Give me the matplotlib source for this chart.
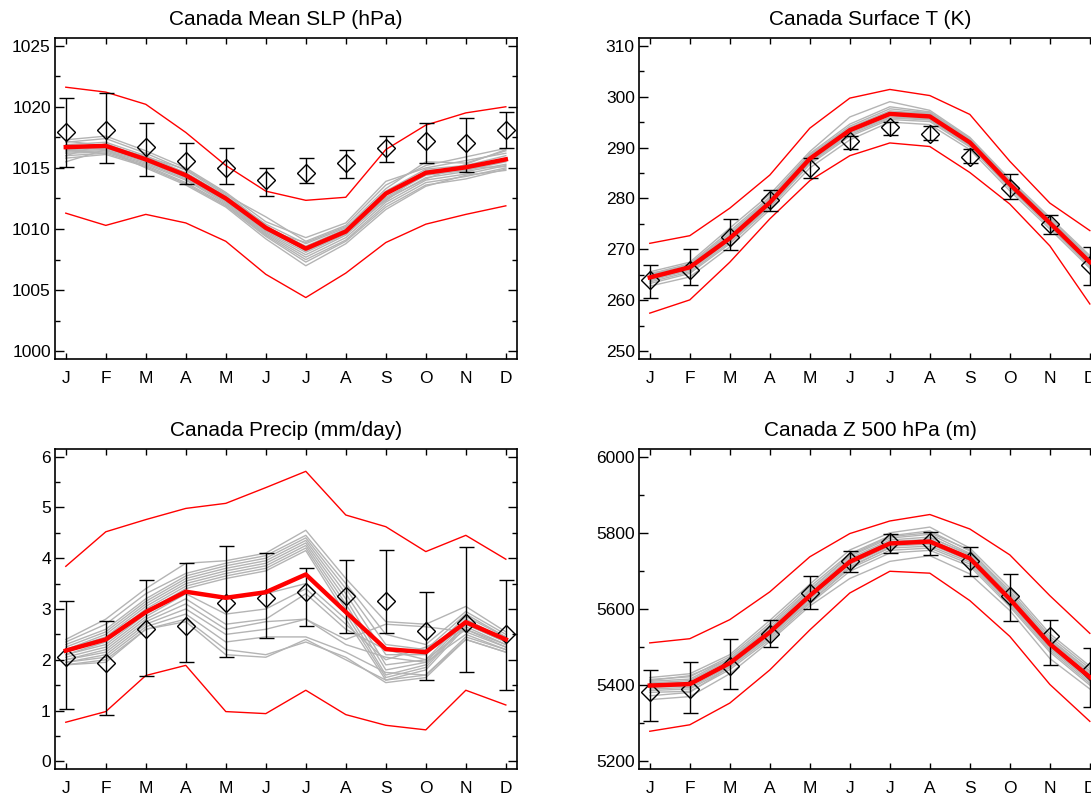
import matplotlib
matplotlib.use("Agg")
from matplotlib import pyplot as plt
from matplotlib.ticker import MultipleLocator

plt.rcParams['font.family'] = ['Liberation Sans', 'DejaVu Sans']

months = ["J", "F", "M", "A", "M", "J", "J", "A", "S", "O", "N", "D"]

# ---- Mean SLP (hPa)
slp_mean = [1016.7, 1016.8, 1015.7, 1014.4, 1012.5, 1010.1, 1008.4, 1009.8, 1012.9, 1014.6, 1015.05, 1015.7]
slp_hi = [1021.6, 1021.2, 1020.2, 1017.9, 1015.2, 1013.1, 1012.35, 1012.6, 1016.5, 1018.5, 1019.5, 1020.0]
slp_lo = [1011.3, 1010.3, 1011.2, 1010.5, 1009.0, 1006.3, 1004.4, 1006.4, 1008.9, 1010.4, 1011.2, 1011.9]
slp_obs = [1017.95, 1018.1, 1016.7, 1015.55, 1015.0, 1014.0, 1014.6, 1015.4, 1016.6, 1017.2, 1017.0, 1018.1]
slp_obs_top = [1020.75, 1021.15, 1018.7, 1017.05, 1016.6, 1015.0, 1015.85, 1016.45, 1017.65, 1018.7, 1019.1, 1019.6]
slp_obs_bot = [1015.1, 1015.4, 1014.35, 1013.65, 1013.65, 1012.7, 1013.8, 1014.15, 1015.45, 1015.4, 1014.7, 1016.6]
slp_models = [
    [1017.3, 1017.6, 1016.4, 1015.0, 1013.0, 1010.6, 1009.3, 1010.5, 1013.9, 1015.0, 1015.6, 1016.2],
    [1017.1, 1017.4, 1016.2, 1014.8, 1012.8, 1011.0, 1009.0, 1010.3, 1013.6, 1015.2, 1015.9, 1016.6],
    [1016.9, 1017.1, 1016.0, 1014.6, 1012.7, 1010.4, 1008.8, 1010.1, 1013.3, 1015.5, 1015.4, 1016.4],
    [1016.8, 1016.9, 1015.9, 1014.5, 1012.6, 1010.2, 1008.6, 1010.0, 1013.1, 1014.9, 1015.2, 1016.0],
    [1016.6, 1016.7, 1015.8, 1014.4, 1012.5, 1010.1, 1008.5, 1009.9, 1013.0, 1014.7, 1015.0, 1015.8],
    [1016.5, 1016.6, 1015.6, 1014.3, 1012.4, 1009.9, 1008.3, 1009.8, 1012.8, 1014.5, 1014.9, 1015.6],
    [1016.4, 1016.5, 1015.5, 1014.2, 1012.3, 1009.8, 1008.1, 1009.6, 1012.6, 1014.4, 1014.8, 1015.5],
    [1016.3, 1016.4, 1015.4, 1014.1, 1012.2, 1009.7, 1007.9, 1009.5, 1012.4, 1014.2, 1014.7, 1015.3],
    [1016.2, 1016.3, 1015.3, 1014.0, 1012.1, 1009.6, 1007.7, 1009.3, 1012.2, 1014.0, 1014.5, 1015.2],
    [1016.0, 1016.2, 1015.2, 1013.8, 1012.0, 1009.5, 1007.5, 1009.1, 1012.0, 1013.8, 1014.3, 1015.0],
    [1015.8, 1016.1, 1015.1, 1013.7, 1011.9, 1009.4, 1007.3, 1009.0, 1011.8, 1013.6, 1014.1, 1014.9],
    [1015.5, 1016.5, 1015.0, 1013.6, 1011.8, 1009.2, 1007.0, 1008.8, 1011.6, 1013.5, 1014.4, 1014.8],
    [1017.2, 1016.8, 1015.9, 1014.9, 1012.9, 1010.3, 1008.2, 1009.7, 1012.5, 1014.1, 1015.3, 1016.5],
    [1016.0, 1017.0, 1015.7, 1014.6, 1012.6, 1009.9, 1008.9, 1010.2, 1012.3, 1014.8, 1015.0, 1015.1],
]

# ---- Surface T (K)
t_mean = [264.5, 266.5, 272.2, 279.2, 287.8, 293.4, 296.6, 296.1, 291.0, 282.8, 275.2, 267.5]
t_hi = [271.2, 272.7, 278.1, 284.6, 293.8, 299.7, 301.4, 300.2, 296.5, 287.3, 279.1, 273.7]
t_lo = [257.5, 260.1, 267.5, 276.0, 283.5, 288.4, 290.9, 290.2, 285.1, 278.9, 270.7, 259.3]
t_obs = [264.0, 266.0, 272.4, 279.7, 286.0, 291.2, 294.0, 292.7, 288.2, 282.0, 275.0, 267.0]
t_obs_top = [267.0, 270.0, 276.0, 281.7, 288.0, 292.3, 295.1, 294.2, 289.7, 284.9, 276.8, 270.4]
t_obs_bot = [260.4, 263.0, 269.9, 277.6, 284.0, 289.8, 292.5, 291.4, 286.9, 279.9, 273.0, 263.0]
t_models = [
    [265.6, 267.5, 274.2, 280.8, 289.2, 296.0, 299.0, 297.3, 292.0, 283.8, 276.3, 268.8],
    [265.2, 267.2, 273.6, 280.3, 288.8, 294.6, 298.0, 297.0, 291.8, 283.5, 276.0, 268.5],
    [265.0, 267.0, 273.2, 280.0, 288.5, 294.2, 297.6, 296.8, 291.6, 283.3, 275.8, 268.3],
    [264.8, 266.8, 272.9, 279.7, 288.2, 293.9, 297.2, 296.6, 291.4, 283.1, 275.6, 268.0],
    [264.6, 266.6, 272.6, 279.5, 288.0, 293.6, 296.9, 296.4, 291.2, 283.0, 275.4, 267.8],
    [264.4, 266.4, 272.4, 279.3, 287.8, 293.4, 296.7, 296.2, 291.1, 282.9, 275.3, 267.6],
    [264.3, 266.3, 272.2, 279.1, 287.6, 293.2, 296.5, 296.0, 290.9, 282.7, 275.1, 267.4],
    [264.1, 266.1, 272.0, 278.9, 287.4, 293.0, 296.3, 295.8, 290.7, 282.6, 275.0, 267.2],
    [263.9, 265.9, 271.7, 278.7, 287.2, 292.8, 296.0, 295.6, 290.5, 282.4, 274.8, 267.0],
    [263.6, 265.6, 271.4, 278.5, 287.0, 292.5, 295.8, 295.4, 290.3, 282.2, 274.6, 266.8],
    [263.3, 265.3, 271.1, 278.2, 286.7, 292.2, 295.5, 295.1, 290.1, 282.0, 274.4, 266.6],
    [262.8, 264.6, 270.5, 277.8, 286.0, 291.5, 295.0, 294.5, 289.6, 281.5, 274.0, 266.3],
    [265.4, 266.2, 272.7, 279.9, 288.6, 293.8, 296.8, 296.9, 291.5, 282.5, 275.2, 267.9],
    [263.8, 266.9, 272.3, 278.8, 287.1, 293.1, 296.4, 295.5, 290.8, 283.0, 275.5, 267.1],
]

# ---- Precip (mm/day)
p_mean = [2.18, 2.40, 2.94, 3.34, 3.22, 3.33, 3.68, 2.94, 2.21, 2.15, 2.74, 2.40]
p_hi = [3.84, 4.52, 4.76, 4.98, 5.08, 5.39, 5.71, 4.85, 4.62, 4.13, 4.45, 3.98]
p_lo = [0.77, 0.98, 1.69, 1.89, 0.98, 0.94, 1.40, 0.92, 0.71, 0.62, 1.40, 1.11]
p_obs = [2.06, 1.93, 2.61, 2.66, 3.12, 3.21, 3.34, 3.26, 3.16, 2.56, 2.73, 2.50]
p_obs_top = [3.15, 2.76, 3.58, 3.91, 4.24, 4.11, 3.81, 3.96, 4.17, 3.34, 4.23, 3.58]
p_obs_bot = [1.04, 0.92, 1.68, 1.95, 2.06, 2.42, 2.67, 2.52, 2.52, 1.61, 1.76, 1.40]
p_models = [
    [2.40, 2.80, 3.40, 3.90, 3.95, 4.10, 4.55, 3.60, 2.75, 2.70, 3.05, 2.55],
    [2.35, 2.70, 3.30, 3.70, 3.90, 4.05, 4.45, 3.50, 2.50, 2.30, 2.95, 2.50],
    [2.30, 2.60, 3.20, 3.65, 3.85, 4.00, 4.40, 3.40, 2.30, 2.20, 2.90, 2.45],
    [2.25, 2.55, 3.15, 3.60, 3.80, 3.95, 4.35, 3.30, 2.10, 2.10, 2.85, 2.45],
    [2.20, 2.50, 3.10, 3.55, 3.75, 3.90, 4.30, 3.20, 1.90, 2.00, 2.80, 2.40],
    [2.20, 2.45, 3.05, 3.50, 3.70, 3.85, 4.25, 3.10, 1.80, 1.95, 2.75, 2.40],
    [2.15, 2.40, 3.00, 3.45, 3.65, 3.80, 4.20, 3.00, 1.70, 1.90, 2.70, 2.35],
    [2.10, 2.35, 2.95, 3.40, 3.60, 3.75, 4.15, 2.90, 1.65, 1.85, 2.70, 2.35],
    [2.10, 2.30, 2.90, 3.35, 3.20, 3.30, 3.50, 2.80, 1.60, 1.80, 2.65, 2.30],
    [2.05, 2.25, 2.85, 3.30, 2.90, 3.00, 3.40, 2.70, 2.00, 2.25, 2.60, 2.30],
    [2.00, 2.20, 2.80, 3.20, 2.70, 2.80, 3.30, 2.60, 2.20, 2.00, 2.60, 2.25],
    [2.00, 2.15, 2.75, 3.10, 2.60, 2.75, 2.80, 2.40, 2.70, 2.65, 2.55, 2.25],
    [1.95, 2.10, 2.70, 3.00, 2.50, 2.60, 2.80, 2.30, 2.05, 1.95, 2.50, 2.20],
    [1.95, 2.05, 2.65, 2.90, 2.35, 2.45, 2.45, 2.15, 1.75, 1.70, 2.45, 2.20],
    [1.90, 2.00, 2.60, 2.80, 2.20, 2.10, 2.35, 2.05, 1.55, 1.65, 2.40, 2.15],
    [1.90, 1.95, 2.60, 2.75, 2.10, 2.05, 2.40, 2.00, 1.60, 1.70, 2.40, 2.15],
]

# ---- Z 500 hPa (m)
z_mean = [5399, 5403, 5458, 5539, 5635, 5724, 5772, 5777, 5733, 5626, 5508, 5421]
z_hi = [5511, 5522, 5572, 5645, 5737, 5798, 5831, 5848, 5810, 5742, 5635, 5536]
z_lo = [5279, 5296, 5353, 5440, 5545, 5642, 5699, 5694, 5622, 5528, 5402, 5305]
z_obs = [5382, 5389, 5451, 5534, 5641, 5725, 5776, 5776, 5727, 5633, 5530, 5436]
z_obs_top = [5441, 5462, 5520, 5572, 5687, 5753, 5797, 5803, 5763, 5692, 5572, 5497]
z_obs_bot = [5307, 5327, 5390, 5500, 5600, 5696, 5747, 5742, 5687, 5568, 5453, 5342]
z_models = [
    [5420, 5430, 5480, 5570, 5665, 5755, 5800, 5815, 5760, 5655, 5535, 5450],
    [5415, 5422, 5475, 5562, 5658, 5745, 5792, 5805, 5752, 5648, 5528, 5444],
    [5410, 5416, 5470, 5556, 5652, 5738, 5786, 5796, 5746, 5642, 5522, 5438],
    [5406, 5412, 5466, 5550, 5646, 5733, 5781, 5789, 5741, 5637, 5517, 5432],
    [5403, 5408, 5462, 5545, 5641, 5729, 5777, 5783, 5737, 5632, 5513, 5427],
    [5400, 5405, 5459, 5541, 5637, 5725, 5773, 5779, 5734, 5628, 5509, 5423],
    [5397, 5401, 5456, 5537, 5633, 5721, 5769, 5774, 5730, 5624, 5505, 5418],
    [5394, 5398, 5453, 5533, 5629, 5717, 5765, 5770, 5727, 5620, 5501, 5414],
    [5390, 5394, 5450, 5529, 5625, 5712, 5760, 5765, 5723, 5616, 5497, 5410],
    [5386, 5390, 5446, 5525, 5620, 5706, 5754, 5760, 5718, 5611, 5492, 5405],
    [5381, 5384, 5441, 5520, 5614, 5699, 5747, 5754, 5712, 5606, 5487, 5400],
    [5362, 5370, 5430, 5515, 5608, 5680, 5725, 5740, 5692, 5596, 5470, 5390],
    [5412, 5425, 5468, 5548, 5650, 5741, 5790, 5800, 5755, 5641, 5512, 5420],
    [5372, 5381, 5448, 5540, 5616, 5709, 5762, 5787, 5744, 5619, 5520, 5436],
]


def panel(ax, title, models, mean, hi, lo, obs, obs_top, obs_bot, ylo, yhi, major, minor):
    x = list(range(12))
    for m in models:
        ax.plot(x, m, color="#b4b4b4", lw=1.0, zorder=1)
    # observations with error bars
    yerr = [[o - b for o, b in zip(obs, obs_bot)], [t - o for o, t in zip(obs, obs_top)]]
    ax.errorbar(x, obs, yerr=yerr, fmt="none", ecolor="black", elinewidth=1.0,
                capsize=5.4, capthick=1.0, zorder=3)
    ax.plot(x, obs, linestyle="none", marker="D", markersize=9.5, markerfacecolor="none",
            markeredgecolor="black", markeredgewidth=1.0, zorder=4)
    ax.plot(x, hi, color="red", lw=1.0, zorder=2)
    ax.plot(x, lo, color="red", lw=1.0, zorder=2)
    ax.plot(x, mean, color="red", lw=3.2, zorder=5)

    rng = yhi - ylo
    ax.set_ylim(ylo - 0.025 * rng, yhi + 0.025 * rng)
    ax.set_xlim(-0.27, 11.28)
    ax.set_xticks(x)
    ax.set_xticklabels(months)
    ax.yaxis.set_major_locator(MultipleLocator(major))
    ax.yaxis.set_minor_locator(MultipleLocator(minor))
    ax.tick_params(axis="x", direction="in", top=True, length=4.5, width=1.0, pad=9, labelsize=12.5)
    ax.tick_params(axis="y", which="major", direction="in", right=True, length=6.5, width=1.0,
                   pad=3, labelsize=12.5)
    ax.tick_params(axis="y", which="minor", direction="in", right=True, length=3.6, width=1.0)
    for s in ax.spines.values():
        s.set_linewidth(1.2)
    ax.set_title(title, fontsize=15, pad=9)


fig = plt.figure(figsize=(10.91, 7.93), dpi=100)
ax1 = fig.add_axes([0.0504, 0.5473, 0.4235, 0.4048])
ax2 = fig.add_axes([0.5857, 0.5473, 0.4235, 0.4048])
ax3 = fig.add_axes([0.0504, 0.0303, 0.4235, 0.4035])
ax4 = fig.add_axes([0.5857, 0.0303, 0.4235, 0.4035])

panel(ax1, "Canada Mean SLP (hPa)", slp_models, slp_mean, slp_hi, slp_lo,
      slp_obs, slp_obs_top, slp_obs_bot, 1000, 1025, 5, 2.5)
panel(ax2, "Canada Surface T (K)", t_models, t_mean, t_hi, t_lo,
      t_obs, t_obs_top, t_obs_bot, 250, 310, 10, 5)
panel(ax3, "Canada Precip (mm/day)", p_models, p_mean, p_hi, p_lo,
      p_obs, p_obs_top, p_obs_bot, 0, 6, 1, 0.5)
panel(ax4, "Canada Z 500 hPa (m)", z_models, z_mean, z_hi, z_lo,
      z_obs, z_obs_top, z_obs_bot, 5200, 6000, 200, 100)

fig.savefig("out.png", dpi=100)
